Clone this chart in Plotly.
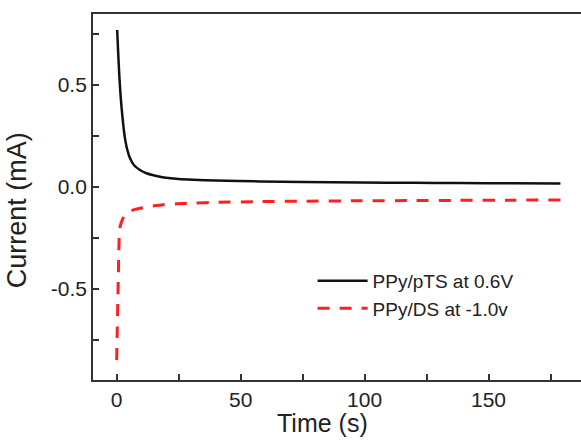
import plotly.graph_objects as go

# Chronoamperometry traces (time in s, current in mA)
t_pts = [0.2, 0.6, 1.05, 1.5, 2.0, 2.7, 3.35, 4.2, 5.4, 7.0, 9.4, 12.0, 14.8, 17.5, 20.8,
         25.0, 30.9, 40.0, 57.8, 75.0, 98.0, 120.0, 138.0, 160.0, 179.0]
i_pts = [0.768, 0.66, 0.547, 0.46, 0.384, 0.30, 0.237, 0.185, 0.139, 0.105, 0.082,
         0.066, 0.056, 0.049, 0.043, 0.038, 0.034, 0.030, 0.026, 0.023, 0.021,
         0.019, 0.018, 0.017, 0.016]

t_ds = [0.0, 0.25, 0.45, 0.65, 0.85, 1.05, 1.4, 2.0, 2.8, 4.0, 6.0, 9.4, 13.0, 18.8,
        24.0, 30.9, 40.0, 57.8, 75.0, 98.0, 120.0, 138.0, 160.0, 179.0]
i_ds = [-0.85, -0.694, -0.57, -0.449, -0.33, -0.237, -0.195, -0.171, -0.150, -0.131,
        -0.117, -0.106, -0.097, -0.088, -0.084, -0.080, -0.077, -0.073, -0.071, -0.069,
        -0.068, -0.067, -0.066, -0.065]

series_names = ["PPy/pTS at 0.6V", "PPy/DS at -1.0v"]

x_ticks = [0, 50, 100, 150]
y_ticks = [-0.5, 0.0, 0.5]
y_tick_text = ["-0.5", "0.0", "0.5"]

axis_color = "#333333"
text_color = "#222222"
font_family = "Arial, Liberation Sans, sans-serif"

fig = go.Figure()
fig.add_trace(go.Scatter(
    x=t_pts, y=i_pts, mode="lines", name=series_names[0],
    line=dict(color="#111111", width=2.5, shape="spline", smoothing=0.6),
))
fig.add_trace(go.Scatter(
    x=t_ds, y=i_ds, mode="lines", name=series_names[1],
    line=dict(color="#ff1f1f", width=3, dash="12px,10px", shape="spline", smoothing=0.6),
))

fig.update_layout(
    width=581, height=440,
    margin=dict(l=93, r=0, t=14, b=60),
    paper_bgcolor="white", plot_bgcolor="white",
    font=dict(family=font_family, color=text_color, size=20),
    showlegend=True,
    legend=dict(
        x=0.45, y=0.323, xanchor="left", yanchor="top",
        bgcolor="rgba(0,0,0,0)", font=dict(size=19, color=text_color),
        itemwidth=50, tracegroupgap=0,
    ),
    annotations=[
        dict(text="Time (s)", xref="paper", yref="paper", x=(322 - 93) / 488, y=-0.118,
             xanchor="center", yanchor="middle", showarrow=False,
             font=dict(size=25, color=text_color)),
        dict(text="Current (mA)", xref="paper", yref="paper", x=-0.155, y=(380 - 210) / 366,
             xanchor="center", yanchor="middle", showarrow=False, textangle=-90,
             font=dict(size=27, color=text_color)),
    ],
)

fig.update_xaxes(
    range=[-9.55, 187.3],
    tickmode="array", tickvals=x_ticks, ticktext=[str(v) for v in x_ticks],
    ticks="inside", ticklen=6, tickwidth=1.5, tickcolor=axis_color,
    minor=dict(dtick=25, tick0=0, ticks="inside", ticklen=6, tickwidth=1.5, tickcolor=axis_color),
    showline=True, linecolor=axis_color, linewidth=1.8, mirror=True,
    showgrid=False, zeroline=False,
    tickfont=dict(size=21, color=text_color),
)
fig.update_yaxes(
    range=[-0.9475, 0.8466],
    tickmode="array", tickvals=y_ticks, ticktext=y_tick_text,
    ticks="inside", ticklen=6, tickwidth=1.5, tickcolor=axis_color,
    minor=dict(dtick=0.25, tick0=0, ticks="inside", ticklen=6, tickwidth=1.5, tickcolor=axis_color),
    showline=True, linecolor=axis_color, linewidth=1.8, mirror=False,
    showgrid=False, zeroline=False,
    tickfont=dict(size=21, color=text_color),
)

fig.write_html("out.html")
